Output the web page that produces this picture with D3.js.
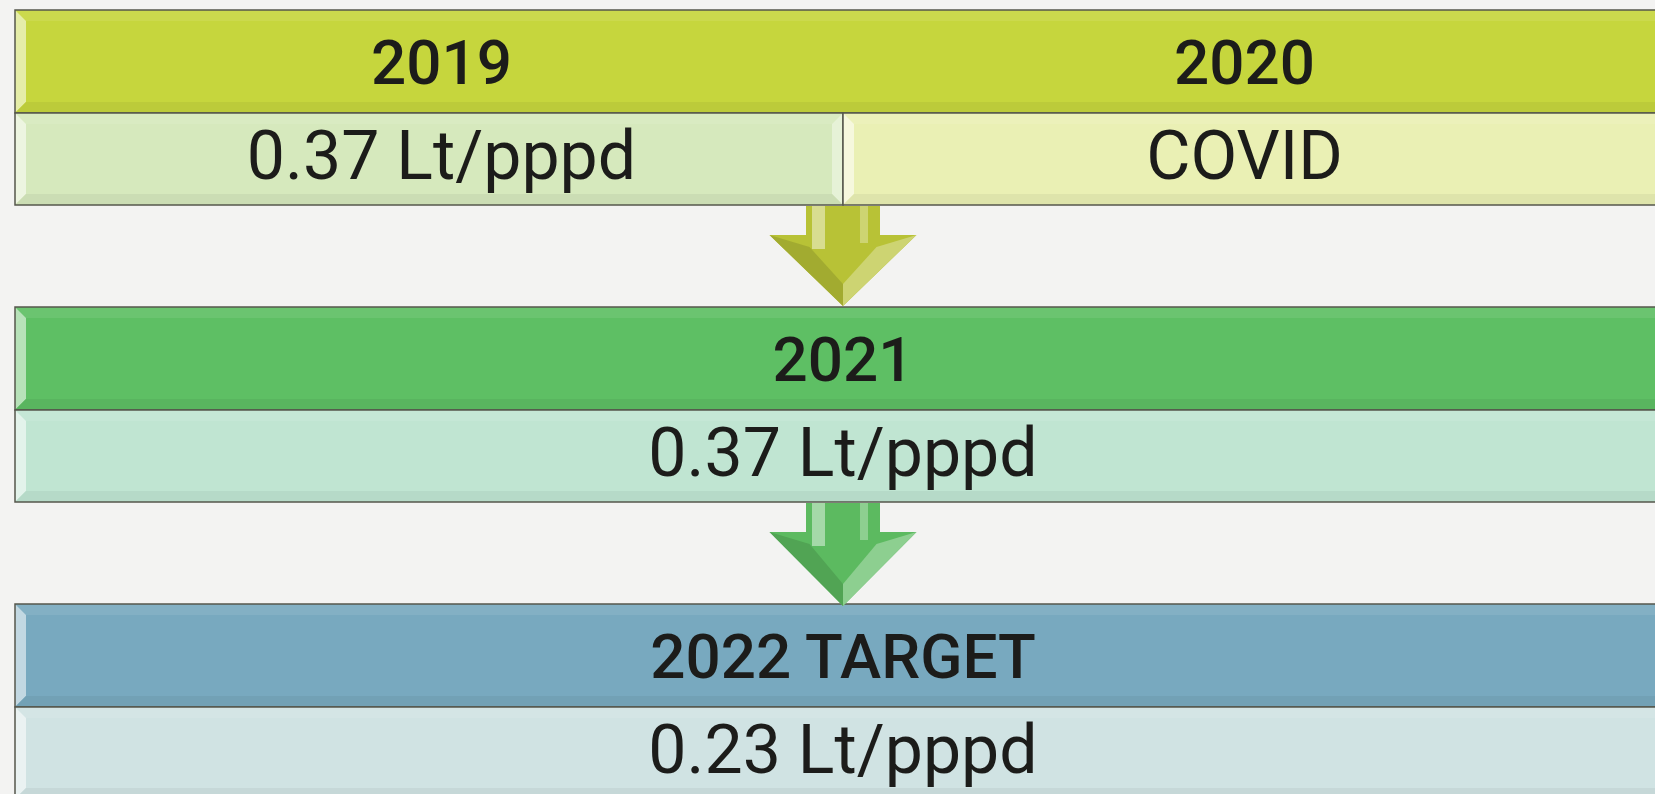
<!DOCTYPE html>
<html lang="en">
<head>
    <meta charset="UTF-8">
    <title>Usage per stage</title>
    <script src="https://d3js.org/d3.v7.min.js"></script>
    <style>
        html, body { margin: 0; padding: 0; background: #f3f3f2; }
        svg { display: block; }
    </style>
</head>
<body>
    <div id="chart"></div>
    <script>
        // data
        var headerText = ["2019", "2020", "2021", "2022 TARGET"];
        var valueText  = ["0.37 Lt/pppd", "COVID", "0.37 Lt/pppd", "0.23 Lt/pppd"];
        var stageOf    = [0, 0, 1, 2];      // which row each item sits in
        var stages     = [0, 1, 2];

        // colours per row / per item
        var headerColors = ["#c6d63d", "#5ebf64", "#78a9bf"];
        var valueColors  = ["#d6e9bd", "#eaf0b4", "#c0e5d2", "#d0e3e3"];
        var arrowColors  = ["#b8c236", "#5cba60"];

        var width = 1655, height = 794;
        var left = 15, right = 1671;
        var headerH = 103, valueH = 92;
        var bev = 11;          // bevel width of the boxes
        var textInset = 25;    // text is centred inside the bevel

        var svg = d3.select("#chart").append("svg")
            .attr("width", width)
            .attr("height", height);

        var y = d3.scaleLinear()
            .domain([0, 2])
            .range([10, 604]);

        var mix = function(a, b, t) { return d3.interpolateRgb(a, b)(t); };

        // box with a bevelled edge, like the office smart art
        function bevelBox(g, x, yy, w, h, fill) {
            g.append("rect")
                .attr("x", x).attr("y", yy).attr("width", w).attr("height", h)
                .attr("fill", fill);
            var facets = [
                {pts: [[x, yy], [x + w, yy], [x + w - bev, yy + bev], [x + bev, yy + bev]], c: mix(fill, "#fff", 0.08)},
                {pts: [[x, yy], [x + bev, yy + bev], [x + bev, yy + h - bev], [x, yy + h]], c: mix(fill, "#fff", 0.55)},
                {pts: [[x + w, yy], [x + w, yy + h], [x + w - bev, yy + h - bev], [x + w - bev, yy + bev]], c: mix(fill, "#fff", 0.4)},
                {pts: [[x, yy + h], [x + bev, yy + h - bev], [x + w - bev, yy + h - bev], [x + w, yy + h]], c: mix(fill, "#000", 0.05)}
            ];
            g.selectAll(null)
                .data(facets)
                .enter()
                .append("polygon")
                .attr("points", function(d) { return d.pts.map(function(p) { return p.join(","); }).join(" "); })
                .attr("fill", function(d) { return d.c; });
            g.append("rect")
                .attr("x", x).attr("y", yy).attr("width", w).attr("height", h)
                .attr("fill", "none")
                .attr("stroke", "#55574c")
                .attr("stroke-width", 1.5);
        }

        // items grouped by row
        var items = headerText.map(function(t, i) {
            return {header: t, value: valueText[i], stage: stageOf[i], idx: i};
        });
        var byStage = stages.map(function(s) { return items.filter(function(d) { return d.stage === s; }); });

        stages.forEach(function(s) {
            var row = byStage[s];
            var top = y(s);
            var x = d3.scaleBand()
                .domain(d3.range(row.length))
                .range([left, right]);

            var g = svg.append("g");

            // header bar runs the full width
            bevelBox(g, left, top, right - left, headerH, headerColors[s]);

            row.forEach(function(d, j) {
                bevelBox(g, x(j), top + headerH, x.bandwidth(), valueH, valueColors[d.idx]);
            });

            row.forEach(function(d, j) {
                var x0 = x(j) + (j === 0 ? textInset : 0);
                var x1 = x(j) + x.bandwidth() - (j === row.length - 1 ? textInset : 0);
                var cx = (x0 + x1) / 2;

                g.append("text")
                    .attr("x", cx)
                    .attr("y", top + headerH / 2 + 22)
                    .attr("text-anchor", "middle")
                    .style("font-family", "Roboto, 'Liberation Sans', sans-serif")
                    .style("font-weight", 500)
                    .style("font-size", "62px")
                    .style("fill", "#1c1c1a")
                    .text(d.header);

                g.append("text")
                    .attr("x", cx)
                    .attr("y", top + headerH + 66)
                    .attr("text-anchor", "middle")
                    .style("font-family", "Roboto, 'Liberation Sans', sans-serif")
                    .style("font-weight", 400)
                    .style("font-size", "68px")
                    .style("fill", "#1c1c1a")
                    .text(d.value);
            });
        });

        // down arrows between the rows
        function drawArrow(cx, yTop, yTip, color) {
            var shaftW = 74, headW = 147, headTop = yTop + 29;
            var g = svg.append("g");
            var outline = [
                [cx - shaftW / 2, yTop], [cx + shaftW / 2, yTop], [cx + shaftW / 2, headTop],
                [cx + headW / 2, headTop], [cx, yTip], [cx - headW / 2, headTop],
                [cx - shaftW / 2, headTop]
            ];
            var pts = function(a) { return a.map(function(p) { return p.join(","); }).join(" "); };
            g.append("polygon").attr("points", pts(outline)).attr("fill", color);
            // shaft highlights
            g.append("rect")
                .attr("x", cx - shaftW / 2 + 6).attr("y", yTop)
                .attr("width", 13).attr("height", headTop - yTop + 14)
                .attr("fill", mix(color, "#fff", 0.45));
            g.append("rect")
                .attr("x", cx + shaftW / 2 - 20).attr("y", yTop)
                .attr("width", 8).attr("height", headTop - yTop + 8)
                .attr("fill", mix(color, "#fff", 0.3));
            // lighter right facet of the head
            g.append("polygon")
                .attr("points", pts([[cx + headW / 2, headTop], [cx, yTip], [cx, yTip - 22], [cx + headW / 2 - 40, headTop + 12]]))
                .attr("fill", mix(color, "#fff", 0.3));
            // darker left facet
            g.append("polygon")
                .attr("points", pts([[cx - headW / 2, headTop], [cx, yTip], [cx, yTip - 22], [cx - headW / 2 + 40, headTop + 12]]))
                .attr("fill", mix(color, "#000", 0.12));
        }

        var cx = (left + right) / 2;
        drawArrow(cx, y(0) + headerH + valueH + 1, y(1) - 1, arrowColors[0]);
        drawArrow(cx, y(1) + headerH + valueH + 1, y(2) + 2, arrowColors[1]);
    </script>
</body>
</html>
